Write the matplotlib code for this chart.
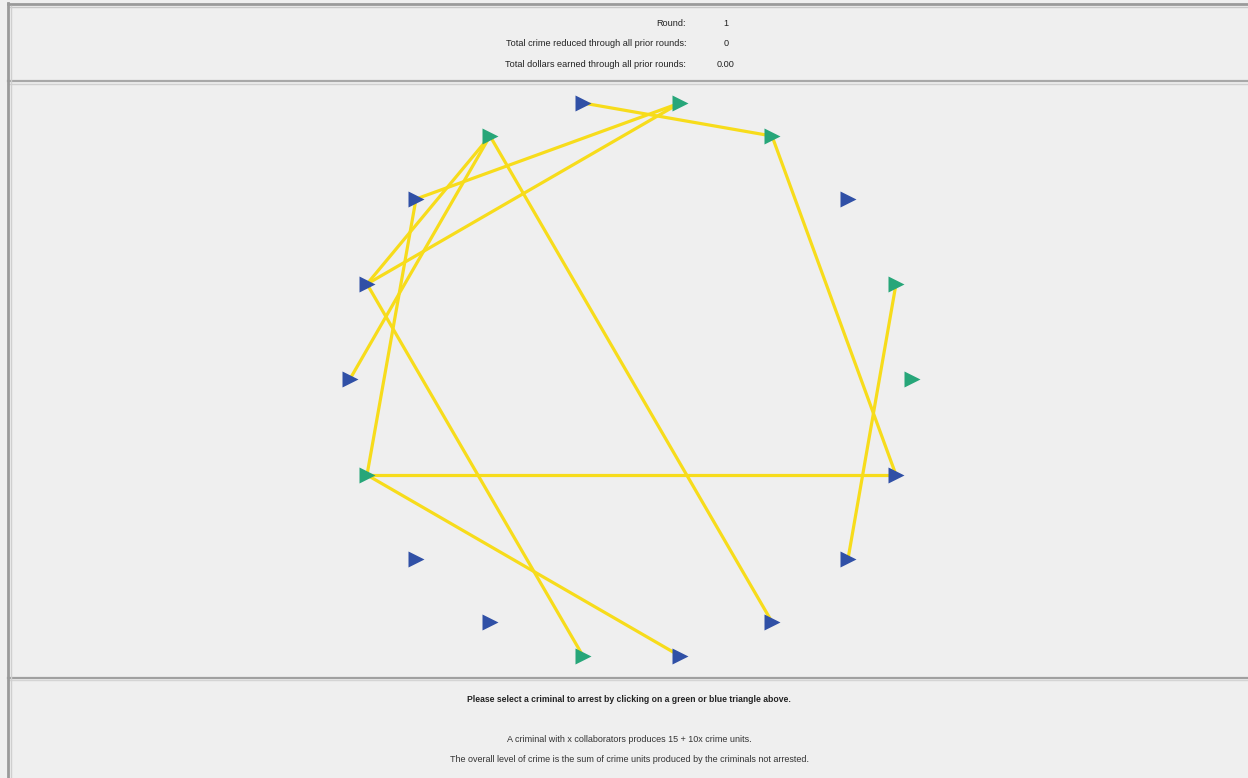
import matplotlib.pyplot as plt
from matplotlib.lines import Line2D

# node positions (pixels, y grows downward)
node_x = [583, 680, 772, 848, 896, 912, 896, 848, 772, 680, 583, 490, 416, 367, 350, 367, 416, 490]
node_y = [103, 103, 136, 199, 284, 379, 475, 559, 622, 656, 656, 622, 559, 475, 379, 284, 199, 136]
node_kind = ['b', 'g', 'g', 'b', 'g', 'g', 'b', 'b', 'b', 'b', 'g', 'b', 'b', 'g', 'b', 'b', 'b', 'g']

# collaborator links (node indices, 0-based)
edges = [(0, 2), (1, 16), (1, 15), (17, 15), (17, 14), (17, 8),
         (16, 13), (15, 10), (13, 6), (13, 9), (2, 6), (4, 7)]

info_labels = ['Round:', 'Total crime reduced through all prior rounds:',
               'Total dollars earned through all prior rounds:']
info_values = ['1', '0', '0.00']

bottom_bold = 'Please select a criminal to arrest by clicking on a green or blue triangle above.'
bottom_lines = ['A criminal with x collaborators produces 15 + 10x crime units.',
                'The overall level of crime is the sum of crime units produced by the criminals not arrested.']

BG = '#efefef'
BLUE = '#3050a6'
GREEN = '#27a679'
YELLOW = '#f7dc1b'

fig = plt.figure(figsize=(12.48, 7.78), dpi=100, facecolor=BG)
ax = fig.add_axes([0, 0, 1, 1])
ax.set_xlim(0, 1248)
ax.set_ylim(778, 0)
ax.axis('off')
ax.set_facecolor(BG)

# panel borders
def hline(y, c, lw):
    ax.add_line(Line2D([8, 1248], [y, y], color=c, lw=lw))

hline(4, '#9a9a9a', 2)
hline(6.5, '#c8c8c8', 1)
hline(80.5, '#a8a8a8', 1.6)
hline(83.5, '#d0d0d0', 1)
hline(677.5, '#a0a0a0', 1.6)
hline(680, '#d4d4d4', 1)
ax.add_line(Line2D([8, 8], [3, 778], color='#9a9a9a', lw=2))
ax.add_line(Line2D([10.5, 10.5], [6, 778], color='#cfcfcf', lw=1))

# header info
for i, (lab, val) in enumerate(zip(info_labels, info_values)):
    y = 23 + i * 20.5
    ax.text(686, y, lab, ha='right', va='center', fontsize=6.6,
            family='Liberation Sans', color='#222222')
    ax.text(726, y, val, ha='center', va='center', fontsize=6.6,
            family='Liberation Sans', color='#222222')

# edges
for a, b in edges:
    ax.plot([node_x[a], node_x[b]], [node_y[a], node_y[b]], color=YELLOW,
            lw=2.3, solid_capstyle='round', zorder=2)

# nodes
for x, y, k in zip(node_x, node_y, node_kind):
    ax.plot(x, y, marker='>', ms=11, color=BLUE if k == 'b' else GREEN,
            mec='none', zorder=3)

# footer text
ax.text(629, 700, bottom_bold, ha='center', va='center', fontsize=6.2,
        fontweight='bold', family='Liberation Sans', color='#222222')
ax.text(629, 739, bottom_lines[0], ha='center', va='center', fontsize=6.5,
        family='Liberation Sans', color='#333333')
ax.text(629, 759, bottom_lines[1], ha='center', va='center', fontsize=6.5,
        family='Liberation Sans', color='#333333')

plt.savefig('out.png', dpi=100, facecolor=BG)
